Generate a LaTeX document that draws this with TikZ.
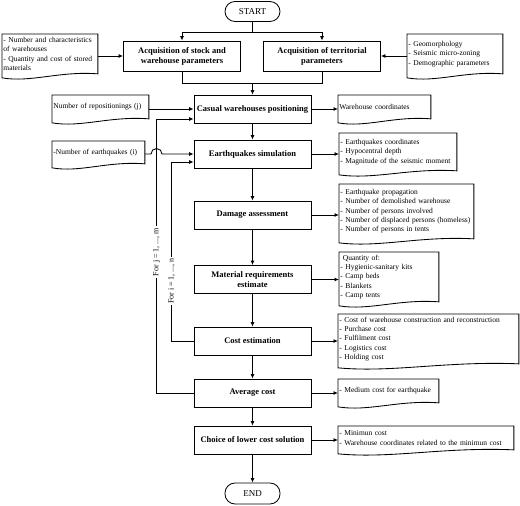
\documentclass[tikz,border=0pt]{standalone}
\usepackage{fontspec}
\setmainfont{Liberation Serif}
\usetikzlibrary{arrows.meta,calc}

% outline of a document symbol (wavy bottom) round a node
\newcommand{\docoutline}[1]{%
  \draw (#1.north west) -- (#1.north east) -- (#1.south east)
    .. controls ($(#1.south east)!0.4!(#1.south west)+(0,3pt)$)
    and ($(#1.south east)!0.7!(#1.south west)+(0,-9pt)$)
    .. ([yshift=-4pt]#1.south west) -- cycle;}

\begin{document}
\begin{tikzpicture}[x=1pt,y=-1pt,line width=0.85pt,
    box/.style={draw,minimum width=117pt,minimum height=28pt,align=center,
      inner sep=1pt,font=\fontsize{8.5}{10}\selectfont\bfseries},
    term/.style={draw,rounded corners=10pt,minimum width=55pt,minimum height=20pt,
      font=\fontsize{9}{10}\selectfont},
    doc/.style={anchor=north west,align=left,inner xsep=1pt,inner ysep=0.5pt,
      font=\fontsize{7.5}{9.3}\selectfont,
      execute at begin node={\hyphenpenalty=10000\relax}},
    looplabel/.style={rotate=90,fill=white,inner xsep=1.5pt,inner ysep=0pt,
      font=\fontsize{8}{9}\selectfont},
    arr/.style={-{Latex[length=4.5pt,width=4pt]}}]
        \useasboundingbox (0,0) rectangle (520,506);

        \node[term] (start) at (252.5,11.5) {START};
        \coordinate (fork) at (252.5,32);
        \node[box,minimum height=30pt] (acqs) at (182,56) {Acquisition of stock and\\warehouse parameters};
        \node[box,minimum height=30pt] (acqt) at (322,56) {Acquisition of territorial\\parameters};
        \coordinate (join) at (252.5,83);
        \draw (start) -- (fork);
        \draw[arr] (fork) -| (acqs);
        \draw[arr] (fork) -| (acqt);
        \draw (acqs) |- (join);
        \draw (acqt) |- (join);

        \node[doc,text width=93pt,minimum height=39pt] (dstock) at (2,34)
        {- Number and characteristics\\of warehouses\\- Quantity and cost of stored\\materials};
        \docoutline{dstock}
        \node[doc,text width=93pt,minimum height=39pt] (dterr) at (407,34)
        {- Geomorphology\\- Seismic micro-zoning\\- Demographic parameters};
        \docoutline{dterr}
        \draw[arr] (dstock.east |- acqs.west) -- (acqs.west);
        \draw[arr] (dterr.west |- acqt.east) -- (acqt.east);

        \node[box] (casual) at (252.5,109) {Casual warehouses positioning};
        \node[box] (quake) at (252.5,154) {Earthquakes simulation};
        \node[box] (damage) at (252.5,215) {Damage assessment};
        \node[box] (material) at (252.5,279.5) {Material requirements\\estimate};
        \node[box] (cost) at (252.5,341) {Cost estimation};
        \node[box] (average) at (252.5,393) {Average cost};
        \node[box] (choice) at (252.5,440) {Choice of lower cost solution};
        \node[term,minimum height=21pt] (end) at (252.5,493.5) {END};

        \draw[arr] (join) -- (casual);
        \draw[arr] (casual) -- (quake);
        \draw[arr] (quake) -- (damage);
        \draw[arr] (damage) -- (material);
        \draw[arr] (material) -- (cost);
        \draw[arr] (cost) -- (average);
        \draw[arr] (average) -- (choice);
        \draw[arr] (choice) -- (end);

        % inputs on the left
        \node[doc,text width=94pt,minimum height=23pt] (drepos) at (52,95) {Number of repositionings (j)};
        \docoutline{drepos}
        \node[doc,text width=90pt,minimum height=22pt] (dquake) at (52,141) {-Number of earthquakes (i)};
        \docoutline{dquake}

        % outputs on the right
        \node[doc,text width=90pt,minimum height=23pt] (dwhc) at (338,95) {Warehouse coordinates};
        \docoutline{dwhc}
        \node[doc,text width=115pt,minimum height=37pt] (dqc) at (339,133)
        {- Earthquakes coordinates\\- Hypocentral depth\\- Magnitude of the seismic moment};
        \docoutline{dqc}
        \node[doc,text width=132pt,minimum height=54pt] (ddam) at (339,184)
        {- Earthquake propagation\\- Number of demolished warehouse\\- Number of persons involved\\- Number of displaced persons (homeless)\\- Number of persons in tents};
        \docoutline{ddam}
        \node[doc,text width=97pt,minimum height=49pt] (dmat) at (339,252)
        {\ Quantity of:\\- Hygienic-sanitary kits\\- Camp beds\\- Blankets\\- Camp tents};
        \docoutline{dmat}
        \node[doc,text width=178pt,minimum height=49pt] (dcost) at (338,314)
        {- Cost of warehouse construction and reconstruction\\- Purchase cost\\- Fulfilment cost\\- Logistics cost\\- Holding cost};
        \docoutline{dcost}
        \node[doc,text width=98pt,minimum height=23pt] (davg) at (338,379) {- Medium cost for earthquake};
        \docoutline{davg}
        \node[doc,text width=173pt,minimum height=23pt] (dmin) at (338,426)
        {- Minimun cost\\- Warehouse coordinates related to the minimun cost};
        \docoutline{dmin}

        \draw[arr] (drepos.east |- casual.west) -- (casual.west);
        \draw[arr] (casual.east) -- (casual.east -| dwhc.west);
        \draw[arr] (quake.east) -- (quake.east -| dqc.west);
        \draw[arr] (damage.east) -- (damage.east -| ddam.west);
        \draw[arr] (material.east) -- (material.east -| dmat.west);
        \draw[arr] (cost.east) -- (cost.east -| dcost.west);
        \draw[arr] (average.east) -- (average.east -| davg.west);
        \draw[arr] (choice.east) -- (choice.east -| dmin.west);

        % loops
        \coordinate (jx) at (156.5,0);
        \coordinate (ix) at (171.5,0);
        \coordinate (jin) at ([yshift=-10pt]casual.west);
        \coordinate (iin) at ([yshift=-8pt]quake.west);
        \draw[arr] (average.west) -| (jx |- jin) -- (jin);
        \draw[arr] (cost.west) -| (ix |- iin) -- (iin);
        \draw[arr] (dquake.east |- quake.west) -- ([xshift=-5.5pt]jx |- quake.west)
        arc[start angle=180,end angle=0,radius=5.5pt] -- (quake.west);
        \node[looplabel] (jlabel) at (156.5,252) {For j = 1, ..., m};
        \node[looplabel] (ilabel) at (171.5,281) {For i = 1, ..., n};

    \end{tikzpicture}
\end{document}
